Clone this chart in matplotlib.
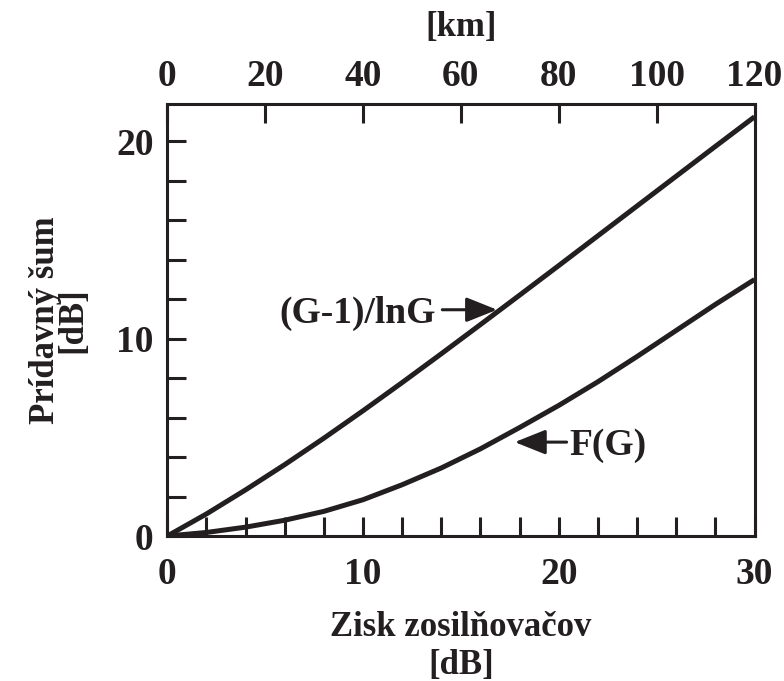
import matplotlib
matplotlib.use('Agg')
import matplotlib.pyplot as plt
from matplotlib.ticker import MultipleLocator

plt.rcParams['font.family'] = ['Liberation Serif', 'DejaVu Serif']
plt.rcParams['font.weight'] = 'bold'
plt.rcParams['axes.labelweight'] = 'bold'

ink = '#231f20'

# zisk zosilnovaca [dB]
gain_db = [0, 2, 4, 6, 8, 10, 12, 14, 16, 18, 20, 22, 24, 26, 28, 30]
# (G-1)/lnG [dB]
noise_lng = [0, 1.12, 2.34, 3.62, 4.96, 6.35, 7.78, 9.24, 10.72, 12.21,
             13.71, 15.22, 16.73, 18.24, 19.75, 21.25]
# F(G) [dB]
noise_fg = [0, 0.18, 0.45, 0.8, 1.25, 1.84, 2.6, 3.45, 4.42, 5.5, 6.62,
            7.82, 9.1, 10.42, 11.74, 13.0]

km_ticks = [0, 20, 40, 60, 80, 100, 120]

fig = plt.figure(figsize=(7.84, 6.81), dpi=100)
ax = fig.add_axes([0.2134, 0.2129, 0.749, 0.6344])

ax.plot(gain_db, noise_lng, color=ink, lw=3.6, solid_capstyle='butt',
        solid_joinstyle='round')
ax.plot(gain_db, noise_fg, color=ink, lw=3.6, solid_capstyle='butt',
        solid_joinstyle='round')

ax.set_xlim(0, 30)
ax.set_ylim(0, 21.9)
ax.xaxis.set_major_locator(MultipleLocator(10))
ax.xaxis.set_minor_locator(MultipleLocator(2))
ax.yaxis.set_major_locator(MultipleLocator(10))
ax.yaxis.set_minor_locator(MultipleLocator(2))
ax.tick_params(which='both', direction='in', length=14, width=2.2,
               color=ink, top=False, right=False)
ax.tick_params(which='major', labelsize=27, labelcolor=ink)
ax.tick_params(axis='x', which='major', pad=15)
ax.tick_params(axis='y', which='major', pad=10)
for s in ax.spines.values():
    s.set_linewidth(2.2)
    s.set_color(ink)

ax.set_xlabel('Zisk zosilňovačov\n[dB]', fontsize=25, color=ink,
              labelpad=14, linespacing=1.2)
ax.set_ylabel('Prídavný šum\n[dB]', fontsize=25, color=ink,
              labelpad=19, linespacing=0.8)

ax2 = ax.twiny()
ax2.set_xlim(0, 120)
ax2.set_xticks(km_ticks)
ax2.tick_params(direction='in', length=14, width=2.2, color=ink,
                labelsize=27, labelcolor=ink, pad=7)
for s in ax2.spines.values():
    s.set_visible(False)
ax2.set_xlabel('[km]', fontsize=25, color=ink, labelpad=17)

arrow = dict(arrowstyle='-|>,head_length=0.95,head_width=0.38',
             color=ink, lw=2.2, mutation_scale=20, shrinkA=0, shrinkB=0)
ax.annotate('', xy=(16.85, 11.47), xytext=(14.05, 11.47), arrowprops=arrow)
ax.text(13.7, 11.3, '(G-1)/lnG', fontsize=27, color=ink,
        ha='right', va='center')
ax.annotate('', xy=(17.75, 4.76), xytext=(20.4, 4.76), arrowprops=arrow)
ax.text(20.55, 4.6, 'F(G)', fontsize=27, color=ink, ha='left', va='center')

fig.savefig('out.png', dpi=100)
